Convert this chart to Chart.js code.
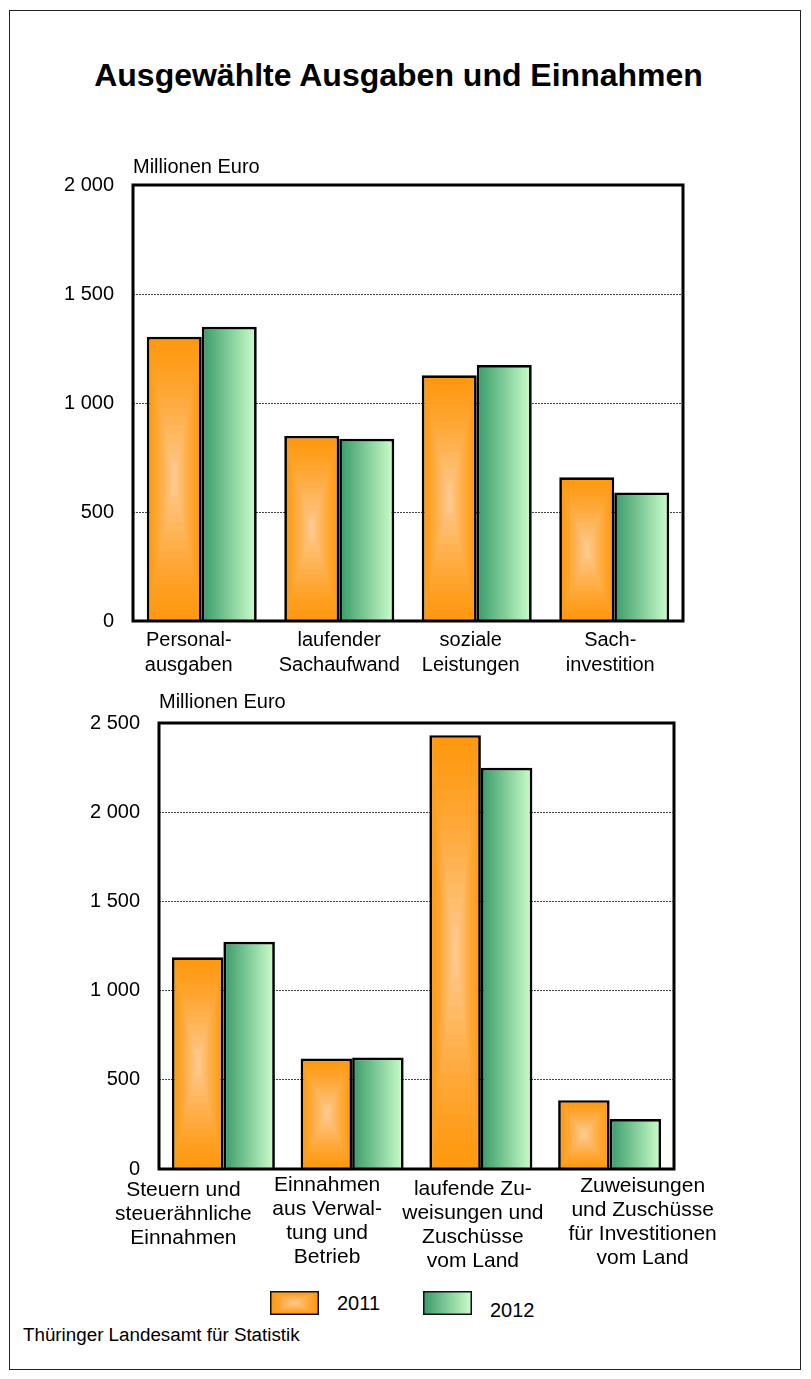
<!DOCTYPE html>
<html lang="de">
<head>
<meta charset="utf-8">
<title>Ausgewählte Ausgaben und Einnahmen</title>
<script src="https://cdn.jsdelivr.net/npm/chart.js@4.4.1/dist/chart.umd.min.js"></script>
<style>
  html, body { margin: 0; padding: 0; background: #fff; }
  body { width: 811px; height: 1379px; position: relative; overflow: hidden;
         font-family: "Liberation Sans", Arial, sans-serif; color: #000; }
  #frame { position: absolute; left: 9px; top: 10px; width: 790px; height: 1358px; border: 1px solid #222; }
  #title { position: absolute; left: -7px; width: 811px; top: 56px; text-align: center;
           font-weight: bold; font-size: 32px; line-height: 38px; }
  .chartbox { position: absolute; left: 0; width: 811px; }
  #box1 { top: 140px; height: 540px; }
  #box2 { top: 680px; height: 600px; }
  .sw { position: absolute; width: 49px; height: 24px; }
  .lg { position: absolute; font-size: 20px; line-height: 24px; }
  #source { position: absolute; left: 23px; top: 1324px; font-size: 18.8px; line-height: 22px; }
</style>
</head>
<body>
<div id="frame"></div>
<div id="title">Ausgewählte Ausgaben und Einnahmen</div>
<div class="chartbox" id="box1"><canvas id="ausgaben"></canvas></div>
<div class="chartbox" id="box2"><canvas id="einnahmen"></canvas></div>
<canvas class="sw" id="sw2011" width="49" height="24" style="left:270px; top:1291px"></canvas>
<span class="lg" style="left:337px; top:1291px">2011</span>
<canvas class="sw" id="sw2012" width="49" height="24" style="left:423px; top:1291px"></canvas>
<span class="lg" style="left:490px; top:1298px">2012</span>
<div id="source">Thüringer Landesamt für Statistik</div>
<script>
var years = ['2011', '2012'];

// Ausgaben (Millionen Euro)
var ausgabenLabels = [['Personal-', 'ausgaben'], ['laufender', 'Sachaufwand'], ['soziale', 'Leistungen'], ['Sach-', 'investition']];
var ausgaben2011 = [1304, 849, 1127, 659];
var ausgaben2012 = [1350, 836, 1174, 590];
var ausgabenTicks = [0, 500, 1000, 1500, 2000];

// Einnahmen (Millionen Euro)
var einnahmenLabels = [
    ['Steuern und', 'steuerähnliche', 'Einnahmen'],
    ['Einnahmen', 'aus Verwal-', 'tung und', 'Betrieb'],
    ['laufende Zu-', 'weisungen und', 'Zuschüsse', 'vom Land'],
    ['Zuweisungen', 'und Zuschüsse', 'für Investitionen', 'vom Land']
];
var einnahmen2011 = [1187, 619, 2432, 386];
var einnahmen2012 = [1274, 625, 2249, 280];
var einnahmenTicks = [0, 500, 1000, 1500, 2000, 2500];

var ORANGE_EDGE = [255, 153, 17];
var ORANGE_CENTER = [255, 206, 155];
var GREEN_DARK = '#389a68';
var GREEN_LIGHT = '#ccffcc';
var FONT = '"Liberation Sans", Arial, sans-serif';

Chart.defaults.font.family = FONT;
Chart.defaults.color = '#000';

function fmt(v) {
    return String(v).replace(/\B(?=(\d{3})+(?!\d))/g, ' ');
}

// concentric rectangles, light in the middle, orange at the edge
function rectGradientCanvas(w, h) {
    var c = document.createElement('canvas');
    c.width = Math.max(1, Math.round(w));
    c.height = Math.max(1, Math.round(h));
    var g = c.getContext('2d');
    var steps = 16;
    for (var i = 0; i < steps; i++) {
        var t = i / steps;
        var m = Math.pow(t, 1.3);
        var col = ORANGE_EDGE.map(function (e, k) { return Math.round(e + (ORANGE_CENTER[k] - e) * m); });
        g.fillStyle = 'rgb(' + col.join(',') + ')';
        g.fillRect(t * c.width / 2, t * c.height / 2, c.width * (1 - t), c.height * (1 - t));
    }
    return c;
}

// where the library's scales put this bar
function barBox(context) {
    var chart = context.chart, xs = chart.scales.x, ys = chart.scales.y;
    if (!xs || !ys) return null;
    var cat = (xs.right - xs.left) / chart.data.labels.length;
    var w = cat * 0.8 / 2;
    var left = xs.getPixelForValue(context.dataIndex) - w + context.datasetIndex * w;
    var top = ys.getPixelForValue(context.raw);
    var base = ys.getPixelForValue(0);
    var b = { left: left, top: top, w: w, h: base - top };
    if (![b.left, b.top, b.w, b.h].every(isFinite) || b.w < 1 || b.h < 1) return null;
    return b;
}

function orangeFill(context) {
    var b = context.type === 'data' ? barBox(context) : null;
    if (!b) return 'rgb(' + ORANGE_EDGE.join(',') + ')';
    var p = context.chart.ctx.createPattern(rectGradientCanvas(b.w, b.h), 'no-repeat');
    p.setTransform(new DOMMatrix().translate(b.left, b.top));
    return p;
}

function greenFill(context) {
    var b = context.type === 'data' ? barBox(context) : null;
    if (!b) return GREEN_DARK;
    var g = context.chart.ctx.createLinearGradient(b.left, 0, b.left + b.w, 0);
    g.addColorStop(0, GREEN_DARK);
    g.addColorStop(1, GREEN_LIGHT);
    return g;
}

// black frame round the plot area, the unit above it and the category labels below
var plotFrame = {
    id: 'plotFrame',
    afterDatasetsDraw: function (chart, args, opts) {
        var a = chart.chartArea, ctx = chart.ctx, xs = chart.scales.x;
        ctx.save();
        ctx.lineWidth = 3;
        ctx.strokeStyle = '#000';
        ctx.strokeRect(a.left, a.top, a.right - a.left, a.bottom - a.top);
        ctx.font = '20px ' + FONT;
        ctx.fillStyle = '#000';
        ctx.textAlign = 'left';
        ctx.textBaseline = 'middle';
        ctx.fillText(opts.unit, a.left, a.top - opts.unitOffset);
        ctx.font = opts.labelSize + 'px ' + FONT;
        ctx.textAlign = 'center';
        chart.data.labels.forEach(function (lines, i) {
            var x = xs.getPixelForValue(i) + opts.shift[i];
            lines.forEach(function (line, j) {
                ctx.fillText(line, x, a.bottom + opts.first[i] + j * opts.step);
            });
        });
        ctx.restore();
    }
};

// legend swatches
(function () {
    var c1 = document.getElementById('sw2011').getContext('2d');
    c1.drawImage(rectGradientCanvas(49, 24), 0, 0);
    c1.lineWidth = 1.5; c1.strokeStyle = '#111';
    c1.strokeRect(0.75, 0.75, 47.5, 22.5);
    var c2 = document.getElementById('sw2012').getContext('2d');
    var g = c2.createLinearGradient(0, 0, 49, 0);
    g.addColorStop(0, GREEN_DARK);
    g.addColorStop(1, GREEN_LIGHT);
    c2.fillStyle = g;
    c2.fillRect(0, 0, 49, 24);
    c2.lineWidth = 1.5; c2.strokeStyle = '#111';
    c2.strokeRect(0.75, 0.75, 47.5, 22.5);
})();

function makeChart(id, labels, d2011, d2012, ticks, lay) {
    return new Chart(document.getElementById(id), {
        type: 'bar',
        data: {
            labels: labels,
            datasets: [
                { label: years[0], data: d2011, backgroundColor: orangeFill, borderColor: '#000', borderWidth: 2.7 },
                { label: years[1], data: d2012, backgroundColor: greenFill, borderColor: '#000', borderWidth: 2.7 }
            ]
        },
        options: {
            responsive: true,
            maintainAspectRatio: false,
            animation: false,
            events: [],
            layout: { padding: { left: 0, right: lay.right, top: lay.top, bottom: 0 } },
            datasets: { bar: { barPercentage: 1, categoryPercentage: 0.8 } },
            plugins: {
                legend: { display: false },
                tooltip: { enabled: false },
                plotFrame: { unit: 'Millionen Euro', unitOffset: lay.unitOffset, labelSize: lay.labelSize,
                             shift: lay.shift, first: lay.first, step: lay.step }
            },
            scales: {
                x: {
                    grid: { display: false, drawTicks: false },
                    border: { display: false },
                    ticks: { display: false },
                    afterFit: function (s) { s.height = lay.xHeight; }
                },
                y: {
                    min: ticks[0],
                    max: ticks[ticks.length - 1],
                    grid: { color: '#444', lineWidth: 1, drawTicks: false },
                    border: { display: false, dash: [2, 1] },
                    ticks: { padding: 19, font: { size: 20 }, color: '#000',
                             callback: function (v) { return fmt(v); } },
                    afterBuildTicks: function (s) { s.ticks = ticks.map(function (v) { return { value: v }; }); },
                    afterFit: function (s) { s.width = lay.yWidth; }
                }
            }
        },
        plugins: [plotFrame]
    });
}

makeChart('ausgaben', ausgabenLabels, ausgaben2011, ausgaben2012, ausgabenTicks,
    { yWidth: 133, right: 128, top: 45, xHeight: 59, unitOffset: 18, labelSize: 20,
      shift: [-13, 0, -6, -4], first: [19, 19, 19, 19], step: 25 });
makeChart('einnahmen', einnahmenLabels, einnahmen2011, einnahmen2012, einnahmenTicks,
    { yWidth: 159, right: 137, top: 43, xHeight: 111, unitOffset: 21, labelSize: 21,
      shift: [-40, -25, -8, 33], first: [21, 16, 20, 17], step: 24 });
</script>
</body>
</html>
